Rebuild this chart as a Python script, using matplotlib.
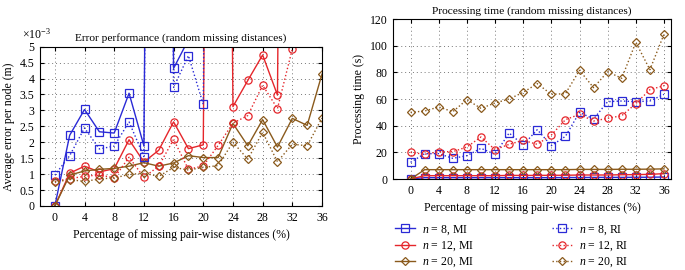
import numpy as np
import matplotlib
matplotlib.use('Agg')
import matplotlib.pyplot as plt

plt.rcParams['font.family'] = ['Liberation Serif', 'DejaVu Serif']
plt.rcParams['mathtext.fontset'] = 'custom'
plt.rcParams['mathtext.rm'] = 'Liberation Serif'
plt.rcParams['mathtext.it'] = 'Liberation Serif:italic'

# percentage of missing pair-wise distances
pct = [0, 2, 4, 6, 8, 10, 12, 14, 16, 18, 20, 22, 24, 26, 28, 30, 32, 34, 36]

# error per node (x 1e-3 m); values far above the axis limit are off-chart
err_mi_8 = [0, 2.22, 3.03, 2.33, 2.29, 3.54, 1.89, 60, 4.32, 5.22, 60, 60, 60, 60, 60, 60, 60, 60, 60]
err_mi_12 = [0, 1.03, 1.25, 1.07, 1.17, 2.08, 1.38, 1.75, 2.64, 1.80, 1.92, 60, 3.12, 3.94, 4.74, 3.48, 60, 60, 60]
err_mi_20 = [0, 0.97, 1.10, 1.15, 1.18, 1.25, 1.36, 1.25, 1.35, 1.58, 1.52, 1.52, 2.59, 1.89, 2.71, 1.85, 2.75, 2.53, 4.14]
err_ri_8 = [0.97, 1.58, 2.45, 1.79, 1.88, 2.64, 1.55, 60, 3.72, 4.72, 3.19, 60, 60, 60, 60, 60, 60, 60, 60]
err_ri_12 = [0.77, 0.86, 0.93, 0.98, 0.88, 1.53, 0.90, 1.25, 2.09, 1.15, 1.26, 1.90, 2.60, 2.84, 3.79, 3.06, 4.93, 60, 60]
err_ri_20 = [0.75, 0.83, 0.77, 0.85, 0.88, 0.99, 1.03, 0.93, 1.21, 1.13, 1.21, 1.27, 2.00, 1.47, 2.31, 1.39, 1.94, 1.89, 2.76]

# processing time (s)
time_mi_8 = [0, 1, 1, 1, 1, 1, 1, 1, 1, 1, 1, 1.1, 1.1, 1.2, 1.2, 1.2, 1.3, 1.3, 1.5]
time_mi_12 = [0, 2.5, 2.5, 2.5, 2.5, 2.5, 2.5, 2.7, 2.7, 2.7, 2.8, 2.8, 3.0, 3.0, 3.0, 3.2, 3.3, 3.5, 4.0]
time_mi_20 = [0, 7, 7, 7, 7, 7, 7, 7, 7, 7, 7, 7, 7.2, 7.2, 7.2, 7.3, 7.3, 7.4, 7.6]
time_ri_8 = [12.5, 19, 19, 15.5, 17.5, 23, 18.5, 34.5, 25.5, 37, 25, 32, 50, 45, 58, 58.5, 58, 58.5, 63.5]
time_ri_12 = [20, 18.5, 20.5, 20.5, 24, 31.5, 22, 26, 29, 26, 33, 44.5, 48.5, 43.5, 45.5, 47.5, 56.5, 67, 70]
time_ri_20 = [50, 51, 54, 50.5, 59.5, 53, 57, 60, 65, 71.5, 63.5, 64, 81.5, 68.5, 80.5, 75.5, 102.5, 82, 108.5]

xticks = [0, 4, 8, 12, 16, 20, 24, 28, 32, 36]

BLUE = '#2a2ad6'
RED = '#e5262b'
BROWN = '#8a5a1c'

styles = [
    ('$n$ = 8, MI', BLUE, 's', '-'),
    ('$n$ = 12, MI', RED, 'o', '-'),
    ('$n$ = 20, MI', BROWN, 'D', '-'),
    ('$n$ = 8, RI', BLUE, 's', ':'),
    ('$n$ = 12, RI', RED, 'o', ':'),
    ('$n$ = 20, RI', BROWN, 'D', ':'),
]


def draw(ax, series):
    handles = []
    for (label, color, marker, ls), ys in zip(styles, series):
        ms = 4.4 if marker == 'D' else 5.2
        h, = ax.plot(pct, ys, linestyle=ls, color=color, marker=marker,
                     markersize=ms, markerfacecolor='none', markeredgewidth=0.9,
                     linewidth=1.0, label=label)
        handles.append(h)
    ax.set_xticks(xticks)
    ax.tick_params(direction='in', top=True, right=True, labelsize=8.5, length=3, pad=4)
    ax.grid(True, linestyle=(0, (1, 3)), color='#777777', linewidth=0.7)
    ax.set_xlabel('Percentage of missing pair-wise distances (%)', fontsize=8.5)
    for s in ax.spines.values():
        s.set_linewidth(0.8)
    return handles


fig = plt.figure(figsize=(6.85, 2.7), dpi=100)

ax1 = fig.add_axes([40 / 685, 1 - 206 / 270, 282 / 685, 159.3 / 270])
draw(ax1, [err_mi_8, err_mi_12, err_mi_20, err_ri_8, err_ri_12, err_ri_20])
ax1.set_xlim(-2, 36)
ax1.set_ylim(0, 5)
yt = np.arange(0, 5.01, 0.5)
ax1.set_yticks(yt)
ax1.set_yticklabels(['%g' % v for v in yt])
ax1.set_ylabel('Average error per node (m)', fontsize=8.5, labelpad=3)
ax1.set_title('Error performance (random missing distances)', fontsize=8.2, pad=4)
ax1.text(-0.065, 1.03, r'$\times10^{-3}$', transform=ax1.transAxes, fontsize=8.5,
         ha='left', va='bottom')

ax2 = fig.add_axes([393 / 685, 1 - 179 / 270, 278 / 685, 160 / 270])
handles = draw(ax2, [time_mi_8, time_mi_12, time_mi_20, time_ri_8, time_ri_12, time_ri_20])
ax2.set_xlim(-2.5, 37)
ax2.set_ylim(0, 120)
ax2.set_yticks(np.arange(0, 121, 20))
ax2.set_ylabel('Processing time (s)', fontsize=8.5, labelpad=3)
ax2.set_title('Processing time (random missing distances)', fontsize=8.2, pad=4)

fig.legend(handles=handles, loc='upper left', bbox_to_anchor=(395 / 685, 1 - 223 / 270),
           ncol=2, frameon=False, fontsize=8.5, handlelength=1.7, columnspacing=6.6,
           labelspacing=0.25, handletextpad=0.6, borderpad=0, borderaxespad=0)

fig.savefig('out.png', dpi=100)
